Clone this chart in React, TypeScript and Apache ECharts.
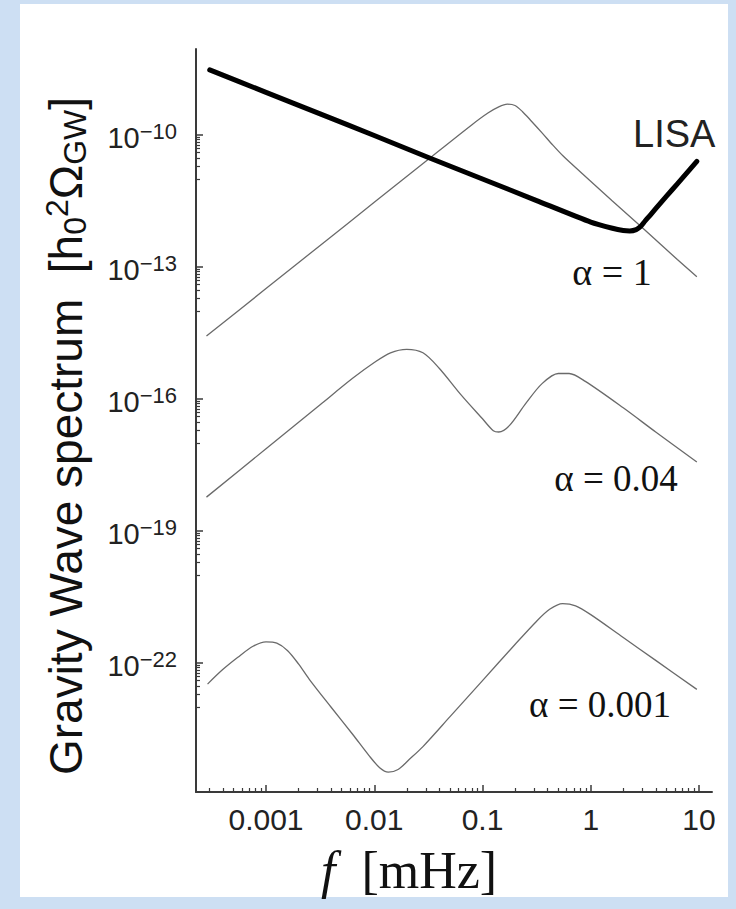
import React, { useEffect, useRef } from "react";
import * as echarts from "echarts";

// Axis ticks
const xTickLabels = [0.001, 0.01, 0.1, 1, 10];
const yTickExponents = [-22, -19, -16, -13, -10];

// Curves, as log10(f / mHz) and log10(h0^2 Omega_GW)
const lisaLogF = [-3.52, -3.0, -2.5, -2.0, -1.5, -1.0, -0.5, 0.0, 0.2, 0.3, 0.36, 0.42, 0.46, 0.5, 0.55, 0.65, 0.75, 0.85, 0.98];
const lisaLogOmega = [-8.52, -9.03, -9.52, -10.01, -10.51, -11.0, -11.49, -11.98, -12.12, -12.17, -12.18, -12.15, -12.08, -11.96, -11.82, -11.53, -11.25, -10.97, -10.6];

const alpha1LogF = [-3.55, -3.0, -2.5, -2.0, -1.5, -1.1, -0.95, -0.85, -0.77, -0.7, -0.63, -0.55, -0.45, -0.35, -0.25, -0.1, 0.2, 0.5, 0.8, 0.98];
const alpha1LogOmega = [-14.57, -13.49, -12.51, -11.53, -10.55, -9.77, -9.5, -9.36, -9.3, -9.33, -9.47, -9.68, -9.95, -10.23, -10.49, -10.83, -11.5, -12.16, -12.83, -13.22];

const alpha004LogF = [-3.55, -3.0, -2.5, -2.2, -2.0, -1.85, -1.7, -1.55, -1.4, -1.2, -1.0, -0.9, -0.85, -0.75, -0.6, -0.45, -0.3, -0.2, -0.05, 0.3, 0.6, 0.98];
const alpha004LogOmega = [-18.23, -17.13, -16.13, -15.53, -15.17, -14.95, -14.87, -14.95, -15.3, -15.9, -16.45, -16.72, -16.75, -16.6, -16.1, -15.65, -15.42, -15.42, -15.6, -16.2, -16.75, -17.43];

const alpha0001LogF = [-3.54, -3.4, -3.26, -3.12, -3.0, -2.9, -2.8, -2.7, -2.6, -2.4, -2.2, -2.05, -1.95, -1.87, -1.78, -1.68, -1.55, -1.3, -1.0, -0.7, -0.5, -0.38, -0.26, -0.14, 0.0, 0.3, 0.6, 0.98];
const alpha0001LogOmega = [-22.48, -22.15, -21.87, -21.62, -21.52, -21.55, -21.72, -22.02, -22.37, -23.0, -23.62, -24.1, -24.38, -24.48, -24.42, -24.2, -23.9, -23.22, -22.4, -21.58, -21.05, -20.78, -20.65, -20.7, -20.9, -21.42, -21.94, -22.6];

const X_MIN_EXP = -3.6467;
const X_MAX_EXP = 1.1201;
const Y_MIN_EXP = -24.932;
const Y_MAX_EXP = -8.045;

const toPairs = (lf: number[], lv: number[]) => lf.map((v, i) => [Math.pow(10, v), Math.pow(10, lv[i])]);

const xMinorTicks: number[] = [];
for (let k = -4; k <= 1; k++) {
  for (let m = 2; m <= 9; m++) {
    const v = m * Math.pow(10, k);
    const e = Math.log10(v);
    if (e > X_MIN_EXP && e < X_MAX_EXP) xMinorTicks.push(v);
  }
}
const yMinorTicks: number[] = [];
yTickExponents.forEach((k) => {
  for (let m = 1; m <= 9; m++) yMinorTicks.push(m * Math.pow(10, k - 1));
});
const yMajorTicks = yTickExponents.map((k) => Math.pow(10, k));

const SANS = "'Liberation Sans', Arial, sans-serif";
const SERIF = "'Liberation Serif', 'Times New Roman', serif";
const AXIS_COLOR = "#3a3a3a";
const CURVE_COLOR = "#6a6a6a";

export default function App() {
  const ref = useRef<HTMLDivElement>(null);

  useEffect(() => {
    document.body.style.margin = "0";
    if (!ref.current) return;
    const chart = echarts.init(ref.current, null, { renderer: "svg" });

    const thin = (name: string, data: number[][]) => ({
      name,
      type: "line",
      data,
      showSymbol: false,
      symbol: "none",
      smooth: 0.3,
      lineStyle: { color: CURVE_COLOR, width: 1.3 },
      z: 3,
    });

    chart.setOption({
      animation: false,
      backgroundColor: "transparent",
      textStyle: { fontFamily: SANS },
      grid: { left: 196, right: 24, top: 49, bottom: 117, containLabel: false },
      xAxis: [
        {
          type: "log",
          logBase: 10,
          min: Math.pow(10, X_MIN_EXP),
          max: Math.pow(10, X_MAX_EXP),
          position: "bottom",
          axisLine: { show: true, onZero: false, lineStyle: { color: AXIS_COLOR, width: 2 } },
          axisTick: { show: true, inside: true, length: 7, customValues: xTickLabels, lineStyle: { color: AXIS_COLOR, width: 1.5 } },
          axisLabel: {
            show: true,
            customValues: xTickLabels,
            formatter: (v: number) => String(v),
            fontSize: 30,
            lineHeight: 30,
            color: "#222",
            margin: 12,
            fontFamily: SANS,
          },
          splitLine: { show: false },
        },
        {
          type: "log",
          logBase: 10,
          min: Math.pow(10, X_MIN_EXP),
          max: Math.pow(10, X_MAX_EXP),
          position: "bottom",
          axisLine: { show: false },
          axisTick: { show: true, inside: true, length: 4, customValues: xMinorTicks, lineStyle: { color: AXIS_COLOR, width: 1.2 } },
          axisLabel: { show: false },
          splitLine: { show: false },
        },
      ],
      yAxis: [
        {
          type: "log",
          logBase: 10,
          min: Math.pow(10, Y_MIN_EXP),
          max: Math.pow(10, Y_MAX_EXP),
          position: "left",
          axisLine: { show: true, onZero: false, lineStyle: { color: AXIS_COLOR, width: 2 } },
          axisTick: { show: true, inside: true, length: 7, customValues: yMajorTicks, lineStyle: { color: AXIS_COLOR, width: 1.5 } },
          axisLabel: {
            show: true,
            customValues: yMajorTicks,
            margin: 19,
            formatter: (v: number) => `{b|10}{s|\u2212${-Math.round(Math.log10(v))}}`,
            rich: {
              b: { fontSize: 29, lineHeight: 29, padding: [6, 0, 0, 0], color: "#222", fontFamily: SANS },
              s: { fontSize: 22, lineHeight: 22, verticalAlign: "top", color: "#222", fontFamily: SANS },
            },
          },
          splitLine: { show: false },
        },
        {
          type: "log",
          logBase: 10,
          min: Math.pow(10, Y_MIN_EXP),
          max: Math.pow(10, Y_MAX_EXP),
          position: "left",
          axisLine: { show: false },
          axisTick: { show: true, inside: true, length: 4, customValues: yMinorTicks, lineStyle: { color: AXIS_COLOR, width: 1.2 } },
          axisLabel: { show: false },
          splitLine: { show: false },
        },
      ],
      series: [
        thin("\u03b1 = 1", toPairs(alpha1LogF, alpha1LogOmega)),
        thin("\u03b1 = 0.04", toPairs(alpha004LogF, alpha004LogOmega)),
        thin("\u03b1 = 0.001", toPairs(alpha0001LogF, alpha0001LogOmega)),
        {
          name: "LISA",
          type: "line",
          data: toPairs(lisaLogF, lisaLogOmega),
          showSymbol: false,
          symbol: "none",
          smooth: 0.2,
          lineStyle: { color: "#000", width: 5, cap: "round", join: "round" },
          z: 4,
        },
      ],
      graphic: [
        {
          type: "text",
          x: 66,
          y: 436,
          rotation: Math.PI / 2,
          style: {
            text: "{a|Gravity Wave spectrum  [h}{sub|0}{sup|2}{a|\u03a9}{sub|GW}{a|]}",
            textAlign: "center",
            textVerticalAlign: "middle",
            rich: {
              a: { fontSize: 46, lineHeight: 50, fill: "#111", fontFamily: SANS },
              sub: { fontSize: 32, lineHeight: 32, verticalAlign: "bottom", fill: "#111", fontFamily: SANS },
              sup: { fontSize: 32, lineHeight: 32, verticalAlign: "top", fill: "#111", fontFamily: SANS },
            },
          },
        },
        {
          type: "text",
          x: 409,
          y: 870,
          style: {
            text: "{i|f}{r|  [mHz]}",
            textAlign: "center",
            textVerticalAlign: "middle",
            rich: {
              i: { fontSize: 52, fontStyle: "italic", fill: "#111", fontFamily: SERIF },
              r: { fontSize: 52, fill: "#111", fontFamily: SERIF },
            },
          },
        },
        {
          type: "text",
          x: 633,
          y: 134,
          style: { text: "LISA", fontSize: 38, fill: "#222", fontFamily: SANS, textAlign: "left", textVerticalAlign: "middle" },
        },
        {
          type: "text",
          x: 612,
          y: 272,
          style: { text: "\u03b1 = 1", fontSize: 38, fill: "#111", fontFamily: SERIF, textAlign: "center", textVerticalAlign: "middle" },
        },
        {
          type: "text",
          x: 616,
          y: 478,
          style: { text: "\u03b1 = 0.04", fontSize: 37, fill: "#111", fontFamily: SERIF, textAlign: "center", textVerticalAlign: "middle" },
        },
        {
          type: "text",
          x: 600,
          y: 704,
          style: { text: "\u03b1 = 0.001", fontSize: 37, fill: "#111", fontFamily: SERIF, textAlign: "center", textVerticalAlign: "middle" },
        },
      ],
    });

    return () => chart.dispose();
  }, []);

  return (
    <div style={{ position: "relative", width: 736, height: 909, background: "#cddff3", overflow: "hidden" }}>
      <div style={{ position: "absolute", left: 20, top: 4, width: 708, height: 893, background: "#ffffff" }} />
      <div ref={ref} style={{ position: "absolute", left: 0, top: 0, width: 736, height: 909 }} />
    </div>
  );
}
